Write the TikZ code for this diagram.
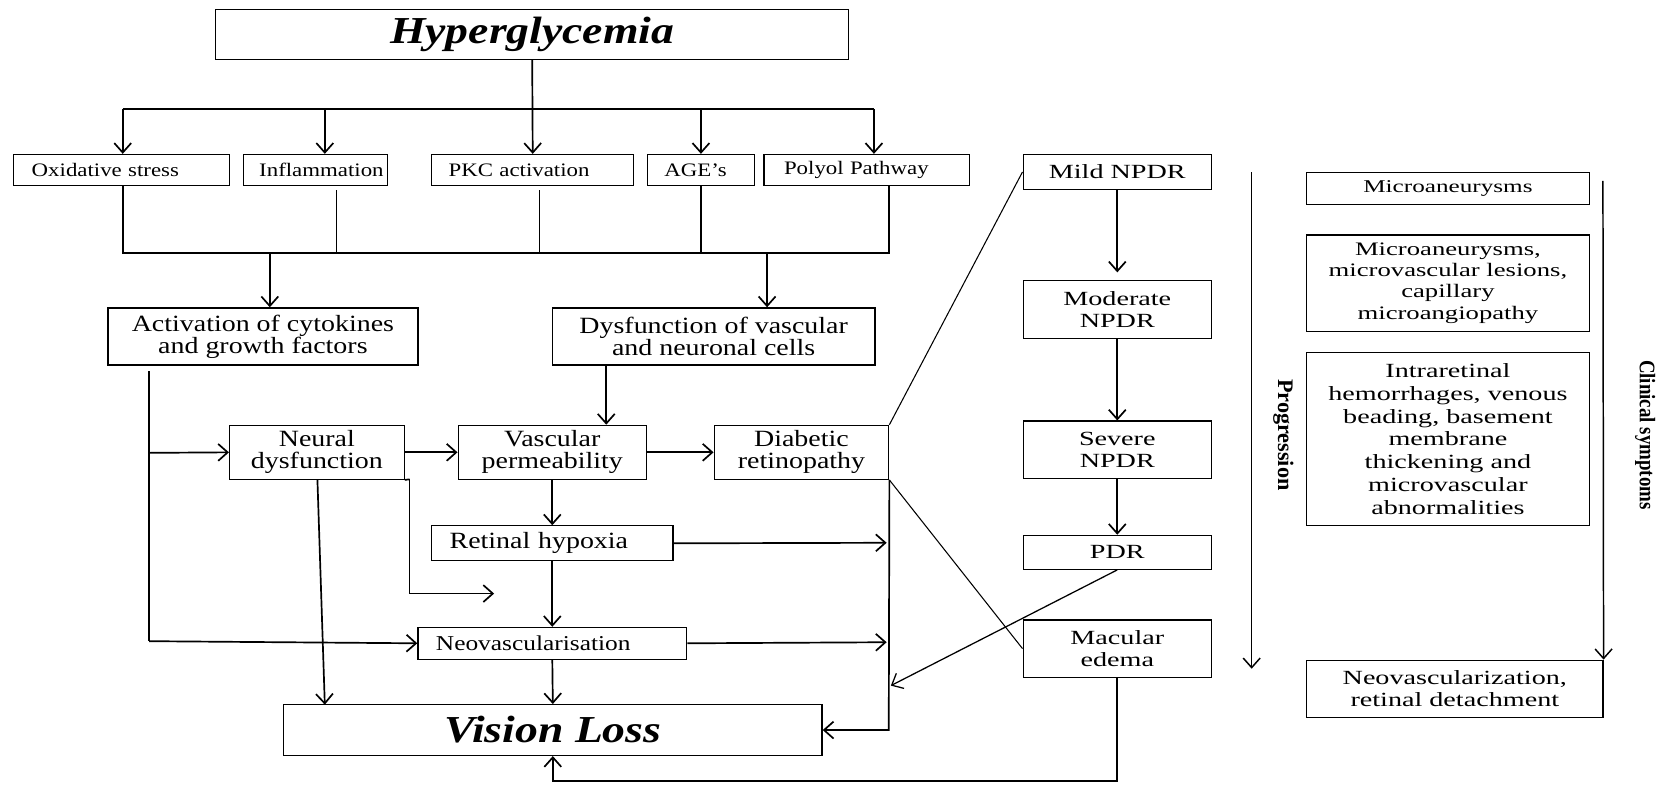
\documentclass[tikz,border=0pt]{standalone}
\usepackage{fontspec}
\setmainfont{Liberation Serif}[FakeStretch=1.2]
\newfontfamily\widefont{Liberation Serif}[FakeStretch=1.4]
\newfontfamily\plainfont{Liberation Serif}
\newfontfamily\narrowfont{Liberation Serif}[FakeStretch=0.85]
\usetikzlibrary{arrows.meta,calc}

\tikzset{
  box/.style={draw, line width=0.6pt, inner sep=0pt, align=center},
  sz/.style 2 args={minimum width=#1*0.5pt, minimum height=#2*0.5pt},
  lbox/.style={box, align=left, text width=#1*0.5pt},
  ln/.style={line width=0.8pt},
  arr/.style={line width=0.8pt, -{Straight Barb[length=4.5pt,width=8pt]}},
  thinln/.style={line width=0.5pt},
  thinarr/.style={line width=0.6pt, -{Straight Barb[length=4.5pt,width=8pt]}},
  titlef/.style={font=\fontsize{18}{20}\selectfont\bfseries\itshape},
  rowf/.style={font=\fontsize{9}{10}\selectfont},
  midf/.style={font=\fontsize{11}{10.5}\selectfont},
  stagef/.style={font=\widefont\fontsize{9.5}{10.5}\selectfont},
}

\begin{document}
\begin{tikzpicture}[x=0.5pt, y=-0.5pt]
\useasboundingbox (0,0) rectangle (1568,741);

% ---------- causes ----------
\node[box, titlef, sz={598}{47}] (hyp) at (503,32.5) {Hyperglycemia};

\node[lbox=204, rowf, sz={204}{29}] (ox)   at (115,160.5)   {\hspace*{8.5pt}Oxidative stress};
\node[lbox=136, rowf, sz={136}{29}] (infl) at (298,160.5)   {\hspace*{7.5pt}Inflammation};
\node[lbox=191, rowf, sz={191}{29}] (pkc)  at (503.5,160.5) {\hspace*{8pt}PKC activation};
\node[lbox=101, rowf, sz={101}{29}] (age)  at (662.5,160.5) {\hspace*{8pt}AGE’s};
\node[lbox=194, rowf, sz={194}{29}] (pol)  at (819,160.5)   {\hspace*{9.5pt}Polyol Pathway};

\node[box, midf, sz={293}{54}] (act) at (248.5,318) {Activation of cytokines\\and growth factors};
\node[box, midf, sz={305}{54}] (dys) at (674.5,318) {Dysfunction of vascular\\and neuronal cells};

\node[box, midf, sz={165}{51}] (neu) at (299.5,427.5) {Neural\\dysfunction};
\node[box, midf, sz={178}{51}] (vas) at (522,427.5)   {Vascular\\permeability};
\node[box, midf, sz={165}{51}] (dr)  at (757.5,427.5) {Diabetic\\retinopathy};

\node[lbox=228, midf, sz={228}{33}] (hyx) at (522,513.5) {\hspace*{8.5pt}Retinal hypoxia};
\node[lbox=254, font=\fontsize{10}{11}\selectfont, sz={254}{30}] (neo) at (522,608) {\hspace*{8.5pt}Neovascularisation};

\node[box, titlef, sz={509}{48}] (vl) at (522.5,690) {Vision Loss};

% ---------- stages ----------
\node[box, stagef, sz={178}{33}] (mild) at (1056,162.5) {Mild NPDR};
\node[box, stagef, sz={178}{55}] (mod)  at (1056,292.5) {Moderate\\NPDR};
\node[box, stagef, sz={178}{54}] (sev)  at (1056,425)   {Severe\\NPDR};
\node[box, stagef, sz={178}{32}] (pdr)  at (1056,522)   {PDR};
\node[box, stagef, sz={178}{54}] (mac)  at (1056,613)   {Macular\\edema};

% ---------- symptoms ----------
\node[box, font=\widefont\fontsize{8.5}{10}\selectfont, sz={267}{30}] (s1) at (1368.5,178) {Microaneurysms};
\node[box, font=\widefont\fontsize{9}{10}\selectfont, sz={267}{91}] (s2) at (1368.5,267.5)
  {Microaneurysms,\\microvascular lesions,\\capillary\\microangiopathy};
\node[box, font=\widefont\fontsize{9.5}{10.75}\selectfont, sz={267}{164}] (s3) at (1368.5,415)
  {Intraretinal\\hemorrhages, venous\\beading, basement\\membrane\\thickening and\\microvascular\\abnormalities};
\node[box, stagef, sz={280}{54}] (s4) at (1375,651) {Neovascularization,\\retinal detachment};

% ---------- side labels ----------
\coordinate (progT) at (1183,163);
\coordinate (progB) at (1183,632);
\draw[arr, line width=0.7pt] (progT) -- (progB);
\node[rotate=-90, font=\plainfont\fontsize{10.5}{12}\selectfont\bfseries] (prog) at (1213,411) {Progression};

\coordinate (clinT) at (1515,171);
\draw[arr, line width=0.7pt] (clinT) -- (s4.north east);
\node[rotate=-90, font=\narrowfont\fontsize{10.5}{12}\selectfont\bfseries] (clin) at (1555,411) {Clinical symptoms};

% ---------- upper distribution ----------
\coordinate (busL) at (116,103);
\coordinate (busR) at (826,103);
\coordinate (busI) at (307,103);
\draw[arr] (hyp.south) -- (pkc.north);
\draw[ln] (busL) -- (busR);
\draw[arr] (busL) -- (busL |- ox.north);
\draw[arr] (busI) -- (busI |- infl.north);
\draw[arr] (age.north |- busL) -- (age.north);
\draw[arr] (busR) -- (busR |- pol.north);

% ---------- collecting bus ----------
\coordinate (colL) at (116,239);
\coordinate (colR) at (840,239);
\coordinate (colI) at (318,180);
\coordinate (colP) at (510,180);
\coordinate (colA) at (255,239);
\coordinate (colD) at (725,239);
\draw[ln] (colL |- ox.south) -- (colL) -- (colR) -- (colR |- pol.south);
\draw[ln] (colI) -- (colI |- colL);
\draw[ln] (colP) -- (colP |- colL);
\draw[ln] (age.south) -- (age.south |- colL);
\draw[arr] (colA) -- (colA |- act.north);
\draw[arr] (colD) -- (colD |- dys.north);

% ---------- cytokine branch ----------
\coordinate (aT) at (141,351);
\coordinate (aM) at (141,428);
\coordinate (aB) at (141,606);
\draw[ln] (aT) -- (aB);
\draw[arr] (aB) -- (neo.west);
\draw[arr] (aM) -- (neu.west);

% ---------- middle chain ----------
\coordinate (dysOut) at (573,345);
\draw[arr] (dysOut) -- (dysOut |- vas.north);
\draw[arr] (neu.east) -- (vas.west);
\draw[arr] (vas.east) -- (dr.west);
\draw[arr] (vas.south) -- (hyx.north);
\draw[arr] (hyx.south) -- (neo.north);
\draw[arr] (neo.south) -- (vl.north);

\coordinate (nA) at (300,453);
\coordinate (nB) at (307,666);
\draw[arr] (nA) -- (nB);
\coordinate (nC) at (387,453);
\coordinate (nD) at (387,561);
\coordinate (nE) at (467,561);
\draw[ln] (neu.south east) -- (nC);
\draw[arr] (nC) -- (nD) -- (nE);

% ---------- retinopathy collector ----------
\coordinate (drB) at (840,690);
\coordinate (hxT) at (838,513);
\coordinate (nvT) at (838,607);
\coordinate (pdT) at (842,648);
\draw[arr] (dr.south east) -- (drB) -- (drB -| vl.east);
\draw[arr] (hyx.east) -- (hxT);
\draw[arr] (neo.east) -- (nvT);
\draw[thinln] (dr.north east) -- (mild.west);
\draw[thinln] (dr.south east) -- (mac.west);
\draw[thinarr] (pdr.south) -- (pdT);

% ---------- stage progression ----------
\draw[arr, shorten >=3.5pt] (mild.south) -- (mod.north);
\draw[arr] (mod.south) -- (sev.north);
\draw[arr] (sev.south) -- (pdr.north);

\coordinate (mB) at (1056,738);
\draw[arr] (mac.south) -- (mac.south |- mB) -- (mB -| vl.south) -- (vl.south);
\end{tikzpicture}
\end{document}
